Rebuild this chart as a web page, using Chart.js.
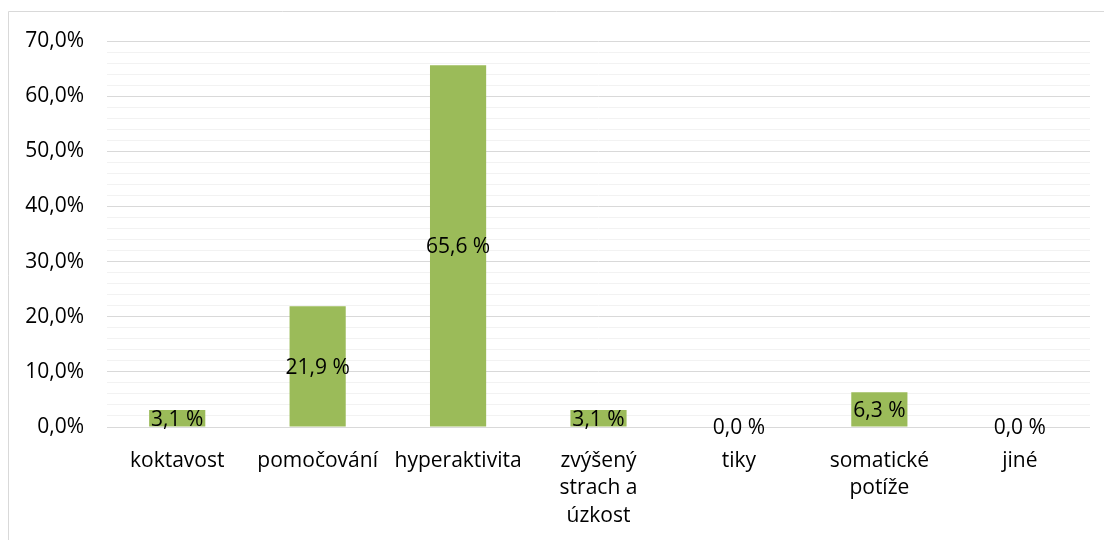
<!DOCTYPE html>
<html lang="cs">
<head>
<meta charset="utf-8">
<title>Poruchy chování</title>
<script src="https://cdn.jsdelivr.net/npm/chart.js@4/dist/chart.umd.min.js"></script>
<style>
  html, body { margin: 0; padding: 0; background: #ffffff; }
  #wrap { width: 1104px; height: 540px; position: relative; }
</style>
</head>
<body>
<div id="wrap"><canvas id="chart" width="1104" height="540"></canvas></div>
<script>
// Categories (multi-line where the label wraps)
const categories = [
  'koktavost',
  'pomočování',
  'hyperaktivita',
  ['zvýšený', 'strach a', 'úzkost'],
  'tiky',
  ['somatické', 'potíže'],
  'jiné'
];

// Share of respondents, in percent
const shares = [3.1, 21.9, 65.6, 3.1, 0.0, 6.3, 0.0];

// Value axis range and steps
const axisMin = 0;
const axisMax = 70;
const minorStep = 2;
const majorStep = 10;

const FONT = '"Open Sans", "DejaVu Sans", sans-serif';
const FONT_SIZE = 21;

function fmt(v, sep) {
  return v.toFixed(1).replace('.', ',') + sep + '%';
}

// Outer frame of the chart object
const framePlugin = {
  id: 'frame',
  beforeDraw(chart) {
    const ctx = chart.ctx;
    ctx.save();
    ctx.fillStyle = '#ffffff';
    ctx.fillRect(0, 0, chart.width, chart.height);
    ctx.strokeStyle = '#d9d9d9';
    ctx.lineWidth = 1;
    ctx.beginPath();
    ctx.moveTo(8.5, chart.height);
    ctx.lineTo(8.5, 11.5);
    ctx.lineTo(chart.width, 11.5);
    ctx.stroke();
    ctx.restore();
  }
};

// Value labels centred inside each bar
const valueLabels = {
  id: 'valueLabels',
  afterDatasetsDraw(chart) {
    const ctx = chart.ctx;
    const meta = chart.getDatasetMeta(0);
    const data = chart.data.datasets[0].data;
    ctx.save();
    ctx.font = FONT_SIZE + 'px ' + FONT;
    ctx.fillStyle = '#000000';
    ctx.textAlign = 'center';
    ctx.textBaseline = 'middle';
    meta.data.forEach((bar, i) => {
      const p = bar.getProps(['x', 'y', 'base'], true);
      const y = (p.y + p.base) / 2 + 1.5;
      ctx.fillText(fmt(data[i], ' '), p.x, y);
    });
    ctx.restore();
  }
};

new Chart(document.getElementById('chart'), {
  type: 'bar',
  data: {
    labels: categories,
    datasets: [{
      data: shares,
      backgroundColor: '#9bbb59',
      borderWidth: 0,
      barPercentage: 0.4,
      categoryPercentage: 1.0
    }]
  },
  options: {
    responsive: false,
    animation: false,
    events: [],
    layout: { padding: { left: 0, right: 14, top: 41, bottom: 0 } },
    plugins: {
      legend: { display: false },
      tooltip: { enabled: false },
      title: { display: false }
    },
    scales: {
      x: {
        grid: { display: false, drawTicks: false },
        border: { display: false },
        ticks: {
          color: '#000000',
          font: { family: FONT, size: FONT_SIZE, lineHeight: 1.31 },
          padding: 20,
          maxRotation: 0,
          autoSkip: false
        },
        afterFit(scale) { scale.height = 113; }
      },
      y: {
        min: axisMin,
        max: axisMax,
        border: { display: false },
        grid: {
          drawTicks: false,
          lineWidth: 1,
          color: (c) => (c.tick && c.tick.value % majorStep === 0) ? '#d9d9d9' : '#f2f2f2'
        },
        ticks: {
          stepSize: minorStep,
          autoSkip: false,
          padding: 23,
          color: '#000000',
          font: { family: FONT, size: FONT_SIZE },
          callback: (v) => (v % majorStep === 0) ? fmt(v, '') : ''
        },
        afterFit(scale) { scale.width = 107; }
      }
    }
  },
  plugins: [framePlugin, valueLabels]
});
</script>
</body>
</html>
